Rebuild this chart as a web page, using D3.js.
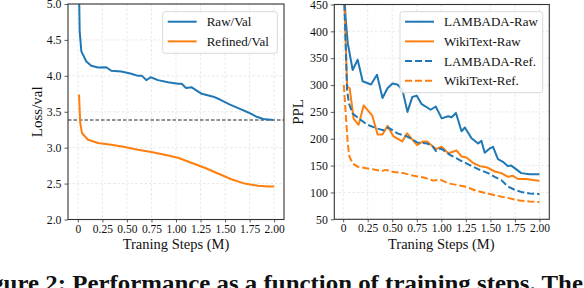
<!DOCTYPE html>
<html><head><meta charset="utf-8">
<script src="https://cdn.jsdelivr.net/npm/d3@7"></script>
<style>body{margin:0;background:#fff;} svg{display:block;}</style>
</head><body>
<svg id="c" width="584" height="288"></svg>
<script>
// ---------- data ----------
const xTicks = [0, 0.25, 0.5, 0.75, 1.0, 1.25, 1.5, 1.75, 2.0];
const xTickLabels = ["0", "0.25", "0.50", "0.75", "1.00", "1.25", "1.50", "1.75", "2.00"];
const lossTicks = [2.0, 2.5, 3.0, 3.5, 4.0, 4.5, 5.0];
const pplTicks = [50, 100, 150, 200, 250, 300, 350, 400, 450];

const rawValSteps = [0.010, 0.019, 0.036, 0.087, 0.137, 0.206, 0.290, 0.341, 0.443, 0.545, 0.613, 0.654, 0.698, 0.742, 0.817, 0.919, 1.020, 1.058, 1.102, 1.160, 1.262, 1.380, 1.448, 1.550, 1.652, 1.736, 1.822, 1.889, 1.991];
const rawVal      = [5.40, 4.62, 4.34, 4.20, 4.14, 4.115, 4.12, 4.07, 4.06, 4.03, 4.00, 4.00, 3.94, 3.98, 3.94, 3.91, 3.89, 3.89, 3.83, 3.84, 3.75, 3.71, 3.67, 3.60, 3.54, 3.49, 3.43, 3.40, 3.385];
const refValSteps = [0.012, 0.025, 0.043, 0.104, 0.206, 0.341, 0.478, 0.613, 0.748, 0.885, 1.020, 1.156, 1.292, 1.428, 1.563, 1.700, 1.835, 1.937, 2.000];
const refVal      = [3.74, 3.34, 3.20, 3.11, 3.065, 3.04, 3.01, 2.97, 2.94, 2.90, 2.86, 2.79, 2.72, 2.64, 2.56, 2.50, 2.47, 2.46, 2.46];
const baselineLoss = 3.385;

const lambRawSteps = [0.010, 0.025, 0.047, 0.097, 0.148, 0.199, 0.284, 0.345, 0.401, 0.452, 0.503, 0.553, 0.604, 0.655, 0.705, 0.750, 0.797, 0.892, 0.943, 1.004, 1.070, 1.105, 1.149, 1.206, 1.240, 1.308, 1.375, 1.409, 1.442, 1.493, 1.527, 1.577, 1.628, 1.679, 1.713, 1.764, 1.814, 1.899, 2.000];
const lambRaw      = [480, 425, 378, 328, 347, 307, 301, 319, 276, 294, 303, 301, 291, 250, 278, 280, 265, 254, 260, 238, 242, 240, 248, 214, 221, 201, 191, 196, 174, 182, 185, 162, 157, 149, 150, 143, 136, 134, 134];
const wikiRawSteps = [0.010, 0.041, 0.067, 0.107, 0.158, 0.209, 0.297, 0.351, 0.401, 0.452, 0.510, 0.601, 0.652, 0.753, 0.814, 0.855, 0.946, 1.004, 1.070, 1.156, 1.206, 1.257, 1.324, 1.392, 1.460, 1.544, 1.612, 1.679, 1.729, 1.780, 1.865, 1.932, 2.000];
const wikiRaw      = [470, 297, 294, 237, 226, 262, 243, 208, 208, 224, 205, 195, 210, 188, 195, 195, 181, 185, 173, 178, 167, 165, 155, 149, 147, 139, 136, 129, 131, 125, 125, 123, 122];
const lambRefSteps = [0.010, 0.040, 0.060, 0.097, 0.165, 0.249, 0.348, 0.412, 0.460, 0.553, 0.655, 0.756, 0.858, 0.915, 0.946, 0.996, 1.088, 1.189, 1.290, 1.392, 1.476, 1.544, 1.612, 1.679, 1.747, 1.814, 1.899, 2.000];
const lambRef      = [470, 290, 265, 247, 237, 226, 219, 216, 221, 210, 204, 193, 191, 185, 177, 182, 170, 160, 151, 142, 136, 129, 123, 111, 105, 101, 98, 97];
const wikiRefSteps = [0.007, 0.047, 0.064, 0.097, 0.148, 0.236, 0.307, 0.395, 0.434, 0.515, 0.616, 0.718, 0.819, 0.920, 0.991, 1.067, 1.156, 1.240, 1.358, 1.493, 1.615, 1.696, 1.797, 1.899, 2.000];
const wikiRef      = [300, 191, 167, 154, 148, 145, 143, 140, 142, 138, 136, 131, 128, 122, 124, 117, 114, 111, 103, 97, 92, 89, 85, 83, 82];

const BLUE = "#1f77b4", ORANGE = "#ff7f0e";
const FONT = "'Liberation Serif', 'Times New Roman', serif";

const svg = d3.select("#c").style("font-family", FONT);
const zip = (xs, ys) => xs.map((x, i) => [x, ys[i]]);

function panel(opt) {
  const { x0, x1, y0, y1, xDomain, yDomain, yTicks, yFmt, yLabel, yLabelX, id } = opt;
  const x = d3.scaleLinear().domain(xDomain).range([x0, x1]);
  const y = d3.scaleLinear().domain(yDomain).range([y1, y0]);
  const g = svg.append("g");
  g.append("clipPath").attr("id", id).append("rect")
    .attr("x", x0).attr("y", y0).attr("width", x1 - x0).attr("height", y1 - y0);
  // grid
  g.append("g").selectAll("line").data(xTicks).join("line")
    .attr("x1", d => x(d)).attr("x2", d => x(d)).attr("y1", y0).attr("y2", y1)
    .attr("stroke", "#e3e3e3").attr("stroke-width", 0.8).attr("stroke-dasharray", "2.5,2");
  g.append("g").selectAll("line").data(yTicks).join("line")
    .attr("x1", x0).attr("x2", x1).attr("y1", d => y(d)).attr("y2", d => y(d))
    .attr("stroke", "#e3e3e3").attr("stroke-width", 0.8).attr("stroke-dasharray", "2.5,2");
  // axes
  const xa = g.append("g").attr("transform", `translate(0,${y1})`)
    .call(d3.axisBottom(x).tickValues(xTicks).tickFormat((d, i) => xTickLabels[i]).tickSize(3).tickPadding(2));
  const ya = g.append("g").attr("transform", `translate(${x0},0)`)
    .call(d3.axisLeft(y).tickValues(yTicks).tickFormat(yFmt).tickSize(3.5).tickPadding(3));
  [xa, ya].forEach(a => {
    a.select(".domain").remove();
    a.selectAll("line").attr("stroke", "#333").attr("stroke-width", 0.8);
    a.selectAll("text").attr("font-family", FONT).attr("font-size", 11.8).attr("fill", "#111");
  });
  xa.selectAll("text").attr("font-size", 11.5);
  const plot = g.append("g").attr("clip-path", `url(#${id})`);
  // frame
  g.append("rect").attr("x", x0).attr("y", y0).attr("width", x1 - x0).attr("height", y1 - y0)
    .attr("fill", "none").attr("stroke", "#333").attr("stroke-width", 1.1);
  // labels
  g.append("text").attr("x", (x(0) + x(2)) / 2).attr("y", 248.5).attr("text-anchor", "middle")
    .attr("font-size", 14.5).attr("fill", "#111").text("Traning Steps (M)");
  g.append("text").attr("transform", `translate(${yLabelX},${(y0 + y1) / 2}) rotate(-90)`)
    .attr("text-anchor", "middle").attr("font-size", 15).attr("fill", "#111").text(yLabel);
  return { x, y, plot, g };
}

const line = (p) => d3.line().x(d => p.x(d[0])).y(d => p.y(d[1]));

function legend(g, bx, by, bw, bh, items) {
  g.append("rect").attr("x", bx).attr("y", by).attr("width", bw).attr("height", bh)
    .attr("rx", 2.5).attr("fill", "#fff").attr("fill-opacity", 0.85)
    .attr("stroke", "#d5d5d5").attr("stroke-width", 0.9);
  items.forEach((it, i) => {
    const yy = by + 10 + i * 19.7;
    g.append("line").attr("x1", bx + 5).attr("x2", bx + 34).attr("y1", yy).attr("y2", yy)
      .attr("stroke", it.c).attr("stroke-width", 2).attr("stroke-dasharray", it.dash || null);
    g.append("text").attr("x", bx + 44).attr("y", yy + 4.5).attr("font-size", 13)
      .attr("fill", "#111").text(it.t);
  });
}

// ---------- left panel ----------
const L = panel({ id: "clipL", x0: 68, x1: 284, y0: 4, y1: 219.5, xDomain: [-0.1, 2.1], yDomain: [2, 5],
  yTicks: lossTicks, yFmt: d3.format(".1f"), yLabel: "Loss/val", yLabelX: 42 });
L.plot.append("line").attr("x1", 68).attr("x2", 284).attr("y1", L.y(baselineLoss)).attr("y2", L.y(baselineLoss))
  .attr("stroke", "#222").attr("stroke-width", 1).attr("stroke-dasharray", "3.5,2");
L.plot.append("path").datum(zip(rawValSteps, rawVal)).attr("d", line(L))
  .attr("fill", "none").attr("stroke", BLUE).attr("stroke-width", 2).attr("stroke-linejoin", "round");
L.plot.append("path").datum(zip(refValSteps, refVal)).attr("d", line(L))
  .attr("fill", "none").attr("stroke", ORANGE).attr("stroke-width", 2).attr("stroke-linejoin", "round");
legend(L.g, 162.7, 11.7, 114.6, 41.6, [
  { t: "Raw/Val", c: BLUE }, { t: "Refined/Val", c: ORANGE }]);

// ---------- right panel ----------
const R = panel({ id: "clipR", x0: 334.3, x1: 549.3, y0: 4.5, y1: 219.3, xDomain: [-0.09, 2.1], yDomain: [50, 450],
  yTicks: pplTicks, yFmt: d3.format("d"), yLabel: "PPL", yLabelX: 303 });
[
  { d: zip(lambRawSteps, lambRaw), c: BLUE },
  { d: zip(wikiRawSteps, wikiRaw), c: ORANGE },
  { d: zip(lambRefSteps, lambRef), c: BLUE, dash: "7,3" },
  { d: zip(wikiRefSteps, wikiRef), c: ORANGE, dash: "7,3" }
].forEach(s => {
  R.plot.append("path").datum(s.d).attr("d", line(R)).attr("fill", "none").attr("stroke", s.c)
    .attr("stroke-width", 2).attr("stroke-linejoin", "round").attr("stroke-dasharray", s.dash || null);
});
legend(R.g, 400, 11.7, 142.7, 81, [
  { t: "LAMBADA-Raw", c: BLUE }, { t: "WikiText-Raw", c: ORANGE },
  { t: "LAMBADA-Ref.", c: BLUE, dash: "7,3" }, { t: "WikiText-Ref.", c: ORANGE, dash: "7,3" }]);

// ---------- caption (cut off by the frame) ----------
const capText = "Figure 2: Performance as a function of training steps. The";
const tmp = svg.append("text").attr("font-size", 23).attr("font-weight", "bold").text("Fig");
const figW = tmp.node().getComputedTextLength(); tmp.remove();
const capX = -figW + 1;
svg.append("text").attr("x", capX).attr("y", 291).attr("font-size", 23).attr("font-weight", "bold")
  .attr("fill", "#111").attr("textLength", 583 - capX).attr("lengthAdjust", "spacingAndGlyphs").text(capText);
</script>
</body></html>
